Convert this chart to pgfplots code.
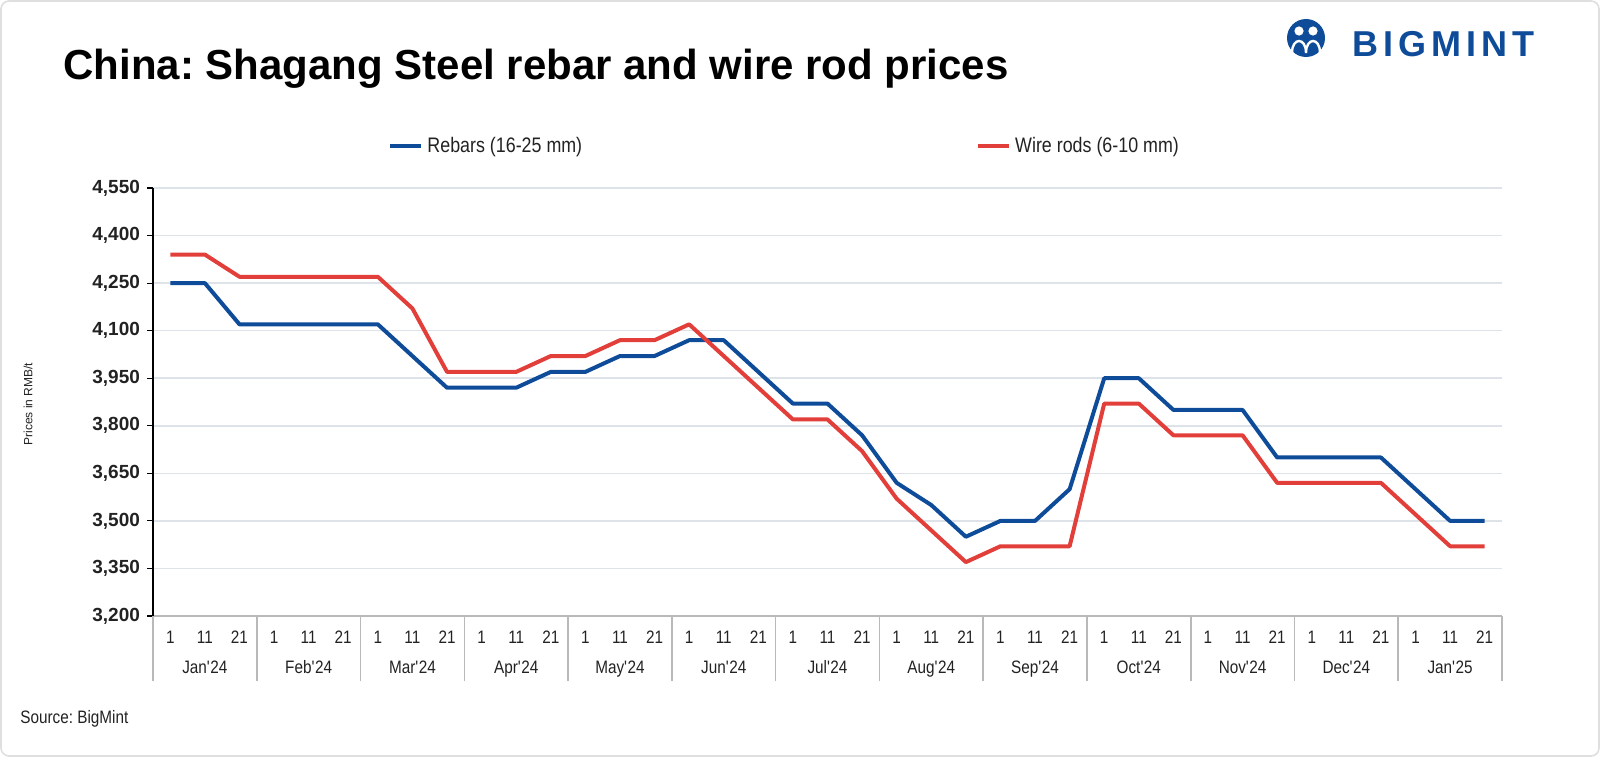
\documentclass[border=0pt]{standalone}
\usepackage{fontspec}
\setmainfont{Liberation Sans}
\newfontfamily\narrow[FakeStretch=0.85]{Liberation Sans}
\newfontfamily\logofont[LetterSpace=14]{Liberation Sans}
\usepackage{pgfplots}
\usepackage{pgfplotstable}
\pgfplotsset{compat=1.18}
\definecolor{rebar}{RGB}{14,76,154}
\definecolor{wire}{RGB}{226,62,58}
\definecolor{gridc}{RGB}{222,226,233}
\definecolor{txt}{RGB}{34,34,34}
\frenchspacing

% x: one point per 10-day slot, Jan'24 (1) ... Jan'25 (21)
\pgfplotstableread{
x rebar wire
0 4250 4340
1 4250 4340
2 4120 4270
3 4120 4270
4 4120 4270
5 4120 4270
6 4120 4270
7 4020 4170
8 3920 3970
9 3920 3970
10 3920 3970
11 3970 4020
12 3970 4020
13 4020 4070
14 4020 4070
15 4070 4120
16 4070 4020
17 3970 3920
18 3870 3820
19 3870 3820
20 3770 3720
21 3620 3570
22 3550 3470
23 3450 3370
24 3500 3420
25 3500 3420
26 3600 3420
27 3950 3870
28 3950 3870
29 3850 3770
30 3850 3770
31 3850 3770
32 3700 3620
33 3700 3620
34 3700 3620
35 3700 3620
36 3600 3520
37 3500 3420
38 3500 3420
}\prices

\begin{document}
\begin{tikzpicture}
\path[use as bounding box] (0,0) rectangle (800pt,378.5pt);
\draw[gray!25, line width=0.8pt, rounded corners=4pt] (0.5pt,0.5pt) rectangle (799.5pt,378pt);

% title
\node[anchor=base west, inner sep=0, text=black, font=\fontsize{21}{24}\selectfont\bfseries]
  at (31.5pt,338.5pt) {China: Shagang Steel rebar and wire rod prices};

% logo
\fill[rebar] (653pt,359.5pt) circle (9.5pt);
\fill[white] (649.5pt,363pt) circle (2.3pt);
\fill[white] (656.5pt,363pt) circle (2.3pt);
\draw[white, line width=1.2pt] (646pt,352pt) .. controls (646pt,360pt) and (653pt,360pt) .. (653pt,352pt)
  .. controls (653pt,360pt) and (660pt,360pt) .. (660pt,352pt);
\node[anchor=base west, inner sep=0, text=rebar, font=\logofont\fontsize{18}{20}\selectfont\bfseries]
  at (676pt,350pt) {BIGMINT};

% y label
\node[rotate=90, text=txt, font=\fontsize{6}{7}\selectfont] at (14pt,176.5pt) {Prices in RMB/t};

% source
\node[anchor=base west, inner sep=0, text=txt, font=\narrow\fontsize{9}{10}\selectfont]
  at (10pt,17pt) {Source: BigMint};

\begin{axis}[
  at={(76.5pt,70.5pt)}, anchor=south west,
  width=674.5pt, height=214pt, scale only axis,
  xmin=-0.5, xmax=38.5, ymin=3200, ymax=4550,
  ytick={3200,3350,...,4550},
  xtick={0,...,38},
  xticklabels={1,11,21,1,11,21,1,11,21,1,11,21,1,11,21,1,11,21,1,11,21,1,11,21,1,11,21,1,11,21,1,11,21,1,11,21,1,11,21},
  axis x line*=bottom, axis y line*=left,
  x axis line style={gray!55, line width=1pt, -},
  y axis line style={black, line width=0.7pt, -},
  xtick style={draw=none},
  ytick style={black, line width=0.6pt},
  major tick length=3pt, tick align=outside,
  ymajorgrids, grid style={gridc, line width=0.8pt},
  scaled y ticks=false,
  yticklabel style={text=txt, font=\fontsize{9.5}{11}\selectfont\bfseries,
    /pgf/number format/assume math mode=true,
    /pgf/number format/fixed, /pgf/number format/1000 sep={,}},
  xticklabel style={text=txt, font=\narrow\fontsize{9}{10}\selectfont, yshift=-1pt},
  legend style={at={(0.469,1.098)}, anchor=center, draw=none, fill=none,
    font=\narrow\fontsize{10.5}{12}\selectfont, text=txt,
    /tikz/every even column/.append style={column sep=195pt}},
  legend columns=2, legend cell align=left,
  legend image code/.code={\draw[#1] (0pt,0pt) -- (15.5pt,0pt);},
  clip=false,
]
\addplot[rebar, line width=2pt, line join=round] table[x=x, y=rebar] {\prices};
\addlegendentry{Rebars (16-25 mm)}
\addplot[wire, line width=2pt, line join=round] table[x=x, y=wire] {\prices};
\addlegendentry{Wire rods (6-10 mm)}
\end{axis}

% month group boxes
\foreach \k in {0,...,13} {
  \draw[gray!55, line width=0.8pt] ({76.5pt+\k*51.8846pt},70.5pt) -- ++(0,-32.5pt);
}
\foreach \m [count=\k from 0] in {Jan\textquotesingle24,Feb\textquotesingle24,Mar\textquotesingle24,Apr\textquotesingle24,May\textquotesingle24,Jun\textquotesingle24,Jul\textquotesingle24,Aug\textquotesingle24,Sep\textquotesingle24,Oct\textquotesingle24,Nov\textquotesingle24,Dec\textquotesingle24,Jan\textquotesingle25} {
  \node[anchor=base, inner sep=0, text=txt, font=\narrow\fontsize{9}{10}\selectfont]
    at ({76.5pt+(\k+0.5)*51.8846pt},42pt) {\m};
}
\end{tikzpicture}
\end{document}
